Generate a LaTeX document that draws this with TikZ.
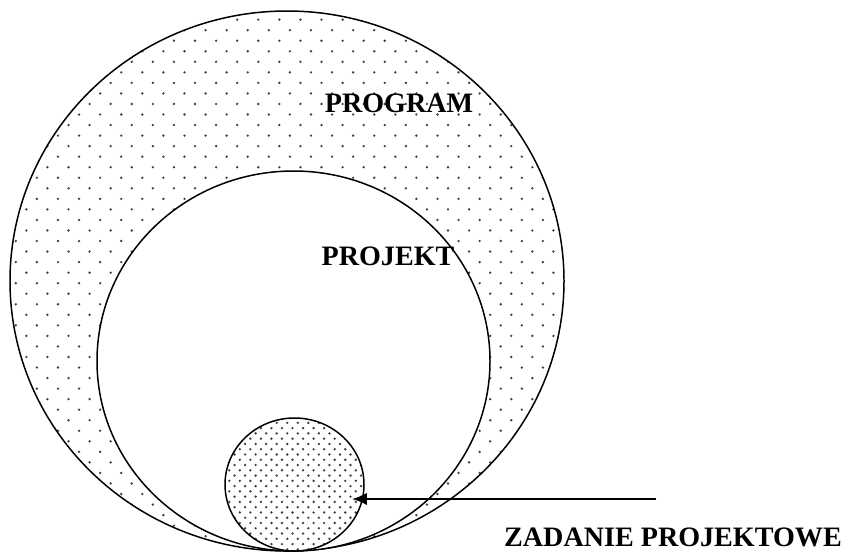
\documentclass[tikz,border=0pt]{standalone}
\usepackage{fontspec}
\setmainfont{Liberation Serif}
\usetikzlibrary{arrows.meta, patterns, positioning}

\pgfdeclarepatternformonly{sparsedots}{\pgfqpoint{-1pt}{-1pt}}{\pgfqpoint{13pt}{13pt}}{\pgfqpoint{12pt}{12pt}}{
    \pgfpathcircle{\pgfqpoint{3pt}{3pt}}{.75pt}
    \pgfpathcircle{\pgfqpoint{9pt}{9pt}}{.75pt}
    \pgfusepath{fill}
}
\pgfdeclarepatternformonly{densedots}{\pgfqpoint{-1pt}{-1pt}}{\pgfqpoint{7pt}{7pt}}{\pgfqpoint{6pt}{6pt}}{
    \pgfpathcircle{\pgfqpoint{1.5pt}{1.5pt}}{.75pt}
    \pgfpathcircle{\pgfqpoint{4.5pt}{4.5pt}}{.75pt}
    \pgfusepath{fill}
}

\begin{document}
\begin{tikzpicture}
    [
        x=0.02cm, y=-0.02cm,
        ring/.style={draw, line width=0.85pt},
        caption/.style={inner sep=0pt, font=\fontsize{16}{19}\selectfont\bfseries}
    ]
    \tikzstyle{line} = [draw, line width=1pt, -{Latex[length=8.5pt,width=7pt]}]

    \useasboundingbox (0,0) rectangle (851,552);

    % Program
    \path[ring, pattern=sparsedots, pattern color=black!75] (287,281) ellipse [x radius=277, y radius=270];
    \node[caption] (program) at (399,103) {PROGRAM};

    % Projekt
    \path[ring, fill=white] (293.5,361) ellipse [x radius=196.5, y radius=190];
    \node[caption] (projekt) at (388,256) {PROJEKT};

    % Zadanie projektowe
    \path[ring, pattern=densedots, pattern color=black!75] (294.5,484.5) ellipse [x radius=69.5, y radius=66.5];
    \coordinate (tip) at (352,499);
    \coordinate (tail) at (656,499);
    \node[caption, anchor=base] (zadanie) at (673,546) {ZADANIE PROJEKTOWE};

    \path[line] (tail) -- (tip);
\end{tikzpicture}
\end{document}
